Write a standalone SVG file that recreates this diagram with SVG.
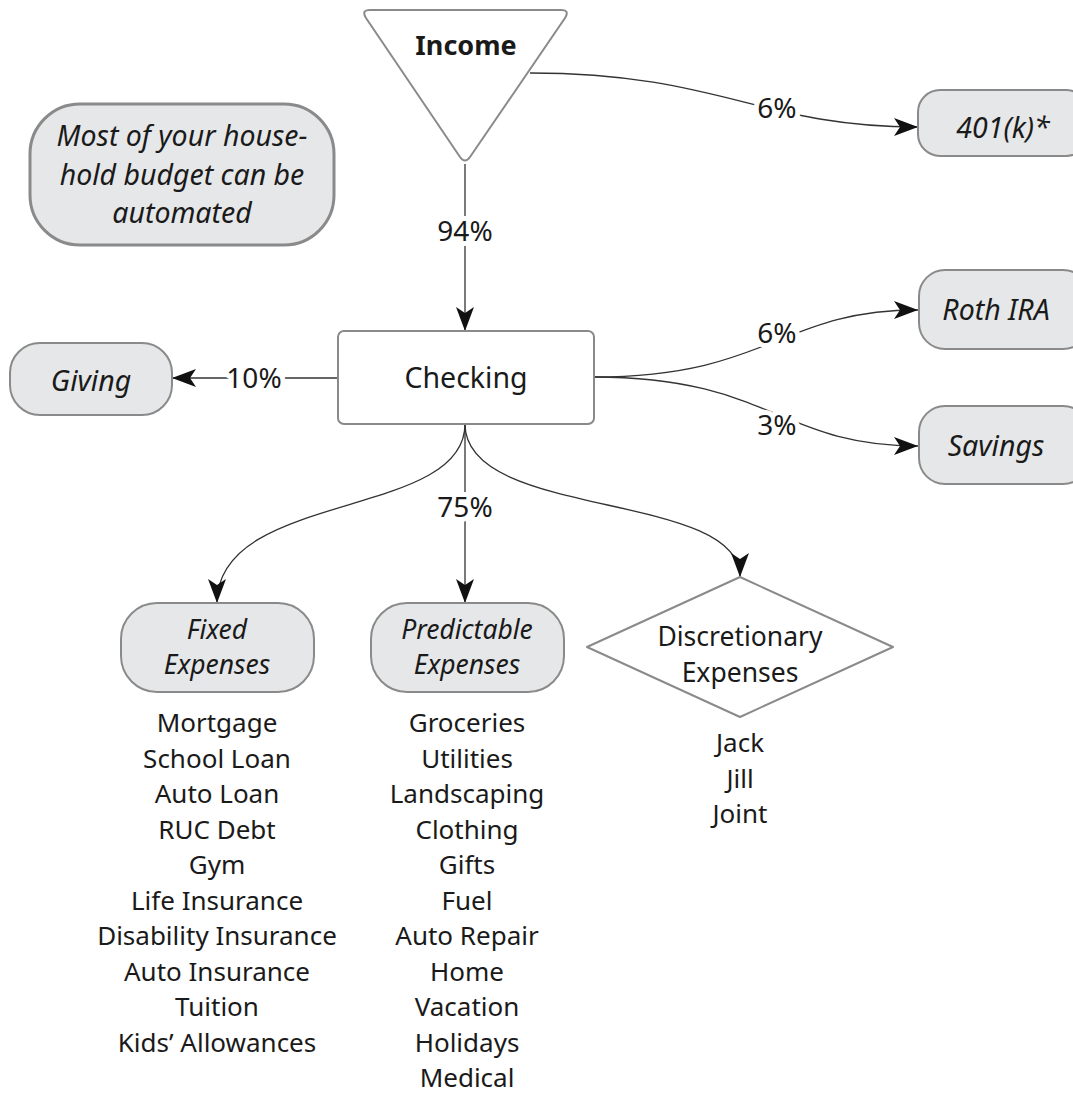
<svg xmlns="http://www.w3.org/2000/svg" width="1073" height="1095" viewBox="0 0 1073 1095">
  <defs>
    <marker id="arrow" viewBox="0 0 24 18" refX="24" refY="9" markerWidth="24" markerHeight="18" markerUnits="userSpaceOnUse" orient="auto">
      <path d="M0,0 L24,9 L0,18 L6,9 Z" fill="#111"/>
    </marker>
  </defs>
  <style>
    text { font-family: "Noto Sans", "Open Sans", sans-serif; fill: #1a1a1a; text-anchor: middle; }
    .node { font-size: 28.5px; }
    .two { font-size: 26.5px; }
    .it { font-style: italic; }
    .pill { fill: #e6e7e8; stroke: #8a8a8a; stroke-width: 2; }
    .plain { fill: #ffffff; stroke: #8a8a8a; stroke-width: 2; }
    .edge { fill: none; stroke: #333; stroke-width: 1.3; marker-end: url(#arrow); }
    .lbl { font-size: 28px; stroke: #ffffff; stroke-width: 10; paint-order: stroke; stroke-linejoin: round; }
    .list { font-size: 26px; }
  </style>

  <!-- connectors -->
  <g id="connectors">
    <path class="edge" d="M530,73 C720,73 760,127 918,127"/>
    <path class="edge" d="M465,164 L465,331"/>
    <path class="edge" d="M338,378 L172,378"/>
    <path class="edge" d="M594,377 C770,377 780,310 918,310"/>
    <path class="edge" d="M594,377 C770,377 780,446 918,446"/>
    <path class="edge" d="M465,424 C465,520 217,490 217,603"/>
    <path class="edge" d="M465,424 L465,603"/>
    <path class="edge" d="M465,424 C465,520 740,490 740,577"/>
    <text class="lbl" x="777" y="118">6%</text>
    <text class="lbl" x="465" y="241">94%</text>
    <text class="lbl" x="254" y="388">10%</text>
    <text class="lbl" x="777" y="343">6%</text>
    <text class="lbl" x="777" y="435">3%</text>
    <text class="lbl" x="465" y="517">75%</text>
  </g>

  <!-- income -->
  <g id="income">
    <path class="plain" d="M370,10 L561,10 Q570,10 565,18 L470,157 Q465,164 460,157 L366,18 Q361,10 370,10 Z"/>
    <text x="466" y="55" style="font-size:27px;font-weight:bold">Income</text>
  </g>

  <!-- note -->
  <g id="note">
    <rect class="pill" x="30" y="104" width="304" height="141" rx="50" style="stroke-width:3"/>
    <text class="node it" x="182" y="146">Most of your house-</text>
    <text class="node it" x="182" y="185">hold budget can be</text>
    <text class="node it" x="182" y="223">automated</text>
  </g>

  <g id="k401">
    <rect class="pill" x="918" y="90" width="170" height="66" rx="22"/>
    <text class="node it" x="1003" y="138">401(k)*</text>
  </g>

  <g id="checking">
    <rect class="plain" x="338" y="331" width="256" height="93" rx="6"/>
    <text class="node" x="466" y="388">Checking</text>
  </g>

  <g id="giving">
    <rect class="pill" x="10" y="343" width="162" height="72" rx="30"/>
    <text class="node it" x="91" y="391">Giving</text>
  </g>

  <g id="roth">
    <rect class="pill" x="919" y="270" width="170" height="79" rx="26"/>
    <text class="node it" x="996" y="320">Roth IRA</text>
  </g>

  <g id="savings">
    <rect class="pill" x="919" y="406" width="170" height="78" rx="26"/>
    <text class="node it" x="996" y="456">Savings</text>
  </g>

  <g id="fixed">
    <rect class="pill" x="121" y="603" width="193" height="89" rx="36"/>
    <text class="two it" x="217" y="639">Fixed</text>
    <text class="two it" x="217" y="674">Expenses</text>
  </g>

  <g id="predictable">
    <rect class="pill" x="371" y="603" width="193" height="89" rx="36"/>
    <text class="two it" x="467" y="639">Predictable</text>
    <text class="two it" x="467" y="674">Expenses</text>
  </g>

  <g id="discretionary">
    <path class="plain" d="M740,577 L893,647 L740,717 L587,647 Z" stroke-linejoin="round"/>
    <text class="two" x="740" y="646">Discretionary</text>
    <text class="two" x="740" y="682">Expenses</text>
  </g>

  <g id="fixed-items">
    <text class="list" x="217" y="732">Mortgage</text>
    <text class="list" x="217" y="767.5">School Loan</text>
    <text class="list" x="217" y="803">Auto Loan</text>
    <text class="list" x="217" y="838.5">RUC Debt</text>
    <text class="list" x="217" y="874">Gym</text>
    <text class="list" x="217" y="909.5">Life Insurance</text>
    <text class="list" x="217" y="945">Disability Insurance</text>
    <text class="list" x="217" y="980.5">Auto Insurance</text>
    <text class="list" x="217" y="1016">Tuition</text>
    <text class="list" x="217" y="1051.5">Kids’ Allowances</text>
  </g>

  <g id="predictable-items">
    <text class="list" x="467" y="732">Groceries</text>
    <text class="list" x="467" y="767.5">Utilities</text>
    <text class="list" x="467" y="803">Landscaping</text>
    <text class="list" x="467" y="838.5">Clothing</text>
    <text class="list" x="467" y="874">Gifts</text>
    <text class="list" x="467" y="909.5">Fuel</text>
    <text class="list" x="467" y="945">Auto Repair</text>
    <text class="list" x="467" y="980.5">Home</text>
    <text class="list" x="467" y="1016">Vacation</text>
    <text class="list" x="467" y="1051.5">Holidays</text>
    <text class="list" x="467" y="1087">Medical</text>
  </g>

  <g id="discretionary-items">
    <text class="list" x="740" y="752">Jack</text>
    <text class="list" x="740" y="787.5">Jill</text>
    <text class="list" x="740" y="823">Joint</text>
  </g>
</svg>
